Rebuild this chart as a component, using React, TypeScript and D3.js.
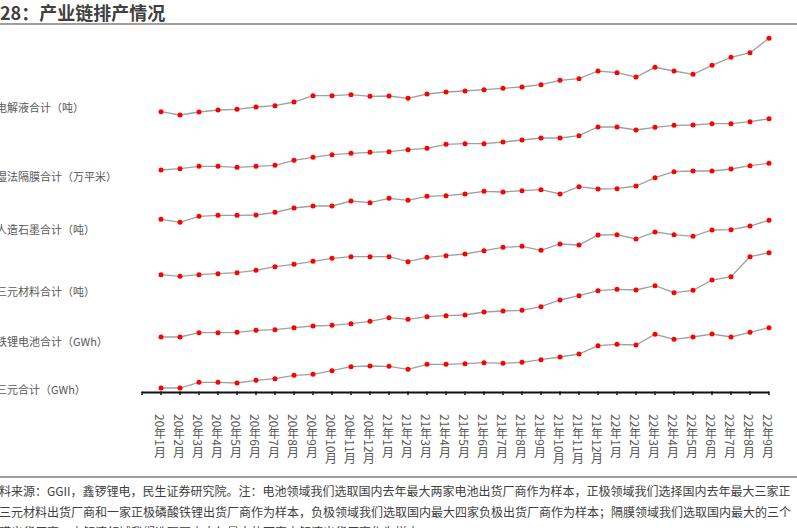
import React from "react";
import * as d3 from "d3";

const months = [
  "20年1月", "20年2月", "20年3月", "20年4月", "20年5月", "20年6月", "20年7月", "20年8月", "20年9月", "20年10月", "20年11月", "20年12月",
  "21年1月", "21年2月", "21年3月", "21年4月", "21年5月", "21年6月", "21年7月", "21年8月", "21年9月", "21年10月", "21年11月", "21年12月",
  "22年1月", "22年2月", "22年3月", "22年4月", "22年5月", "22年6月", "22年7月", "22年8月", "22年9月",
];

const seriesNames = [
  "电解液合计（吨）",
  "湿法隔膜合计（万平米）",
  "人造石墨合计（吨）",
  "三元材料合计（吨）",
  "铁锂电池合计（GWh）",
  "三元合计（GWh）",
];

// relative production index (each series on its own scale)
const electrolyteValues = [8.3, 5, 8, 10, 10.7, 13, 14.3, 18, 24.3, 24.3, 25.3, 23.7, 24, 21.7, 26, 28, 29, 30.3, 31.7, 33, 35.3, 39.7, 41.3, 49, 47.3, 43, 52.7, 49, 45.7, 54.7, 62.7, 67.3, 81.7];
const separatorValues = [10, 11.3, 13.7, 13.7, 12.7, 13.7, 14.7, 19.7, 22.7, 25.3, 26.7, 27.7, 28.3, 30.3, 31.7, 35.7, 36.3, 36.3, 38, 40, 42, 42, 44.3, 53, 53, 50, 52.7, 54.7, 55, 56.3, 56.3, 58.3, 61.3];
const graphiteValues = [10.7, 7.7, 13.7, 14.7, 14.7, 15, 17.7, 22, 24, 24, 29, 27.3, 31.7, 29.7, 33.7, 34.3, 36, 38.7, 38, 39.3, 40.3, 36, 43.3, 41, 41.3, 44, 52.3, 58.3, 59, 59, 61, 64.3, 66.7];
const ternaryMaterialValues = [10.3, 8.7, 10.3, 11.3, 12.3, 14.7, 18.3, 20.7, 23.7, 26.7, 28.3, 28.3, 28.3, 23.3, 27.7, 29.3, 31, 34.3, 37.7, 38.7, 34.7, 41, 40, 50, 50.3, 46, 53, 50.3, 48.7, 55, 55.3, 59, 64.7];
const lfpBatteryValues = [8, 8, 12.3, 12.3, 12.7, 14.7, 15.3, 17.3, 19, 19.7, 21.3, 23.7, 27.3, 25.7, 28.3, 29.3, 30, 33, 34, 34.7, 38.3, 45, 49.3, 54.3, 55.7, 55, 59.3, 52.3, 54.7, 65, 68.3, 88.3, 92.3];
const ternaryBatteryValues = [7, 7, 12.7, 12.7, 12, 14.7, 16.3, 19.7, 20.7, 24.3, 28.3, 29, 28.7, 25.7, 30.7, 30.7, 31.3, 32.3, 31.7, 32.7, 35.3, 38, 41, 49.3, 50.7, 50, 60.7, 55.7, 58, 61, 58, 62.7, 67.3];

const allSeries = [electrolyteValues, separatorValues, graphiteValues, ternaryMaterialValues, lfpBatteryValues, ternaryBatteryValues];

const titleText = "图28：产业链排产情况";
const footerLines = [
  "资料来源：GGII，鑫锣锂电，民生证券研究院。注：电池领域我们选取国内去年最大两家电池出货厂商作为样本，正极领域我们选择国内去年最大三家正",
  "极三元材料出货厂商和一家正极磷酸铁锂出货厂商作为样本，负极领域我们选取国内最大四家负极出货厂商作为样本；隔膜领域我们选取国内最大的三个",
  "隔膜出货厂商，电解液领域我们选取国内去年最大的两家电解液出货厂商作为样本。",
];

// layout
const W = 797;
const H = 528;
const bandBase = [120, 180, 230, 285, 345, 395];
const labelY = [107, 176, 229, 291, 341, 389];
const axisY = 392.5;
const FONT = "'Noto Sans CJK SC', 'Noto Sans', sans-serif";

export default function App() {
  const x = d3.scalePoint<string>().domain(["", ...months]).range([142, 769]);
  const line = d3.line<number>();

  return (
    <svg width={W} height={H} style={{ position: "absolute", left: 0, top: 0, background: "#fff" }} fontFamily={FONT}>
      <rect x={0} y={0} width={W} height={H} fill="#fff" />
      {/* title */}
      <text x={-18} y={20} fontSize={18} fontWeight="bold" fill="#404040">{titleText}</text>
      <line x1={0} x2={W} y1={24} y2={24} stroke="#7f7f7f" strokeWidth={1.5} />

      {/* series */}
      {allSeries.map((vals, si) => {
        const y = d3.scaleLinear().domain([0, 100]).range([bandBase[si], bandBase[si] - 100]);
        const pts: [number, number][] = vals.map((v, i) => [x(months[i]) as number, y(v)]);
        return (
          <g key={si}>
            <text x={-4} y={labelY[si]} fontSize={11} fill="#595959" dominantBaseline="central">{seriesNames[si]}</text>
            <path d={line(pts) || ""} fill="none" stroke="#a0a0a0" strokeWidth={1.3} />
            {pts.map((p, i) => (
              <circle key={i} cx={p[0]} cy={p[1]} r={2.5} fill="#ff0000" />
            ))}
          </g>
        );
      })}

      {/* x axis */}
      <line x1={142} x2={769} y1={axisY} y2={axisY} stroke="#111" strokeWidth={2} />
      {x.domain().map((d, i) => (
        <line key={i} x1={x(d)} x2={x(d)} y1={axisY - 1} y2={axisY + 2.5} stroke="#111" strokeWidth={1.5} />
      ))}
      {months.map((m) => (
        <text key={m} x={(x(m) as number) - 1} y={414} fontSize={12} fill="#595959"
          style={{ writingMode: "vertical-rl" }}>{m}</text>
      ))}

      {/* footer */}
      <line x1={0} x2={W} y1={477} y2={477} stroke="#7f7f7f" strokeWidth={1.5} />
      {footerLines.map((t, i) => (
        <text key={i} x={-13} y={496 + i * 20.5} fontSize={12} fill="#404040">{t}</text>
      ))}
    </svg>
  );
}
